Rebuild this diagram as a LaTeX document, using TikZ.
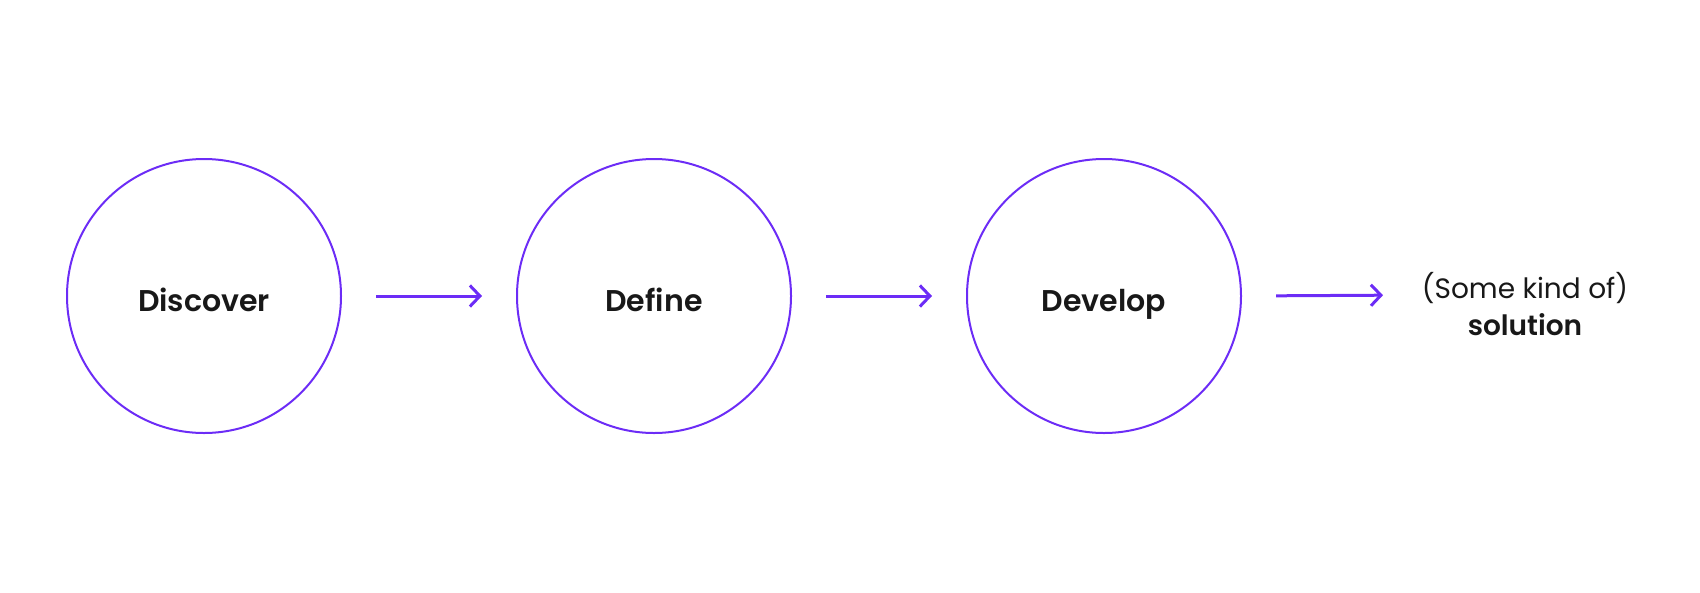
\documentclass[tikz,border=0pt]{standalone}
\usepackage{fontspec}
\setmainfont{Poppins}[BoldFont={Poppins SemiBold}]
\usetikzlibrary{arrows.meta}
\definecolor{violet}{RGB}{108,44,246}
\definecolor{ink}{RGB}{24,24,24}
\tikzset{
  phase/.style={circle, draw=violet, line width=2pt, minimum size=274pt, inner sep=0pt,
    text=ink, text height=30pt, text depth=0pt, font=\fontsize{30}{36}\selectfont\bfseries},
  flow/.style={draw=violet, line width=3pt, shorten <=34pt, shorten >=34pt,
    -{Straight Barb[length=10pt,width=21pt,line width=3pt]}},
  outcome/.style={align=center, text=ink, inner sep=0pt, font=\fontsize{28}{37}\selectfont}
}
\begin{document}
\begin{tikzpicture}[x=1pt,y=-1pt]
\useasboundingbox (0,0) rectangle (1700,592);
\node[phase] (disc) at (204,296) {Discover};
\node[phase] (defi) at (654,296) {Define};
\node[phase] (deve) at (1104,296) {Develop};
\node[outcome, anchor=base] (sol) at (1525,335) {(Some kind of)\\\textbf{solution}};
\coordinate (solin) at (1417,295);
\draw[flow] (disc.east) -- (defi.west);
\draw[flow] (defi.east) -- (deve.west);
\draw[flow] (deve.east) -- (solin);
\end{tikzpicture}
\end{document}
